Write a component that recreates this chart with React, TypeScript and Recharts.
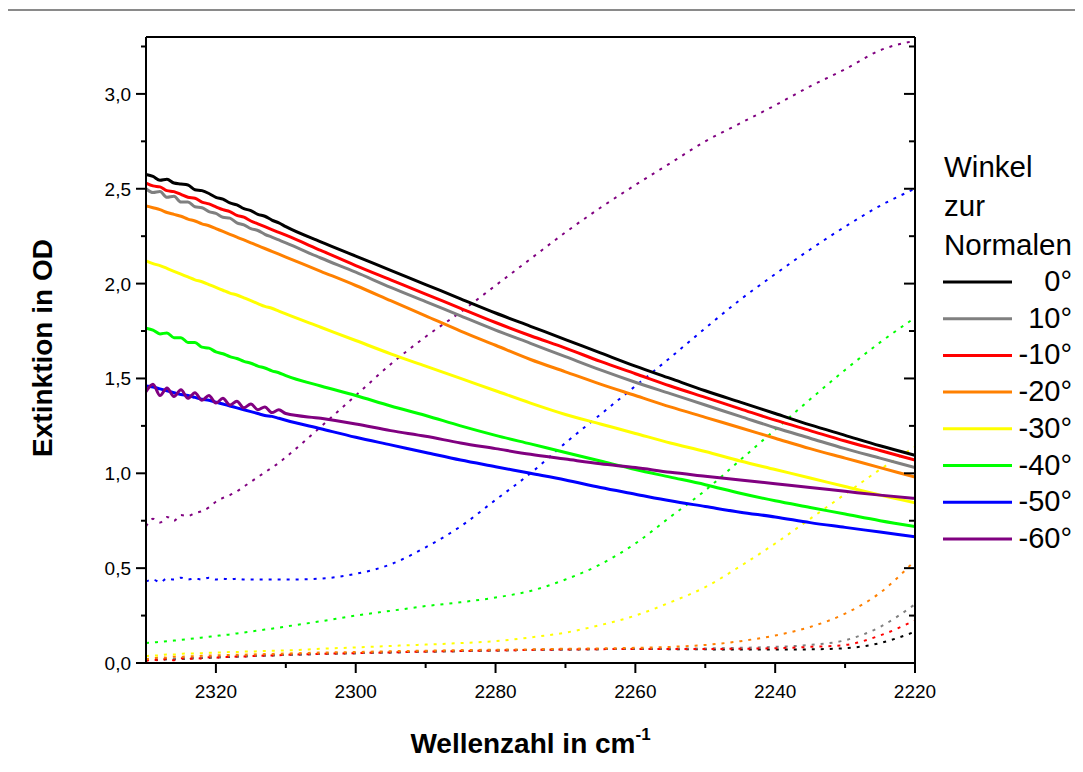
import { LineChart, Line, XAxis, YAxis, Legend } from 'recharts';

const FONT = '"Liberation Sans", Arial, Helvetica, sans-serif';

// wavenumbers (cm-1): 1 step in the wavy start, then 5 steps
const WAVENUMBERS = [
  2330, 2329, 2328, 2327, 2326, 2325, 2324, 2323, 2322, 2321, 2320,
  2319, 2318, 2317, 2316, 2315, 2314, 2313, 2312, 2311, 2310,
  2305, 2300, 2295, 2290, 2285, 2280, 2275, 2270, 2265, 2260,
  2255, 2250, 2245, 2240, 2235, 2230, 2225, 2220,
];

const LEGEND_LABELS = ['0°', '10°', '-10°', '-20°', '-30°', '-40°', '-50°', '-60°'];

const X_TICKS = [2320, 2310, 2300, 2290, 2280, 2270, 2260, 2250, 2240, 2230, 2220];
const Y_TICKS = [0, 0.25, 0.5, 0.75, 1, 1.25, 1.5, 1.75, 2, 2.25, 2.5, 2.75, 3, 3.25];

// solid curves
const SOLID_0 = [
  2.575, 2.565, 2.545, 2.55, 2.53, 2.525, 2.52, 2.495, 2.49, 2.475, 2.455,
  2.445, 2.425, 2.415, 2.395, 2.385, 2.365, 2.355, 2.335, 2.32, 2.30,
  2.22, 2.145, 2.07, 1.995, 1.92, 1.845, 1.775, 1.705, 1.635, 1.565,
  1.50, 1.435, 1.375, 1.315, 1.255, 1.20, 1.145, 1.095,
];
const SOLID_10 = [
  2.50, 2.48, 2.485, 2.455, 2.46, 2.43, 2.43, 2.405, 2.40, 2.38, 2.37,
  2.35, 2.345, 2.32, 2.31, 2.29, 2.28, 2.26, 2.245, 2.23, 2.215,
  2.135, 2.06, 1.98, 1.905, 1.83, 1.755, 1.685, 1.615, 1.545, 1.48,
  1.42, 1.36, 1.30, 1.24, 1.185, 1.13, 1.08, 1.03,
];
const SOLID_M10 = [
  2.53, 2.515, 2.51, 2.49, 2.485, 2.47, 2.455, 2.45, 2.43, 2.42, 2.405,
  2.39, 2.38, 2.36, 2.35, 2.33, 2.315, 2.30, 2.285, 2.27, 2.255,
  2.175, 2.095, 2.02, 1.945, 1.87, 1.795, 1.725, 1.66, 1.59, 1.525,
  1.46, 1.40, 1.34, 1.28, 1.225, 1.17, 1.12, 1.07,
];
const SOLID_M20 = [
  2.41, 2.40, 2.39, 2.375, 2.365, 2.355, 2.34, 2.33, 2.315, 2.305, 2.29,
  2.275, 2.26, 2.245, 2.23, 2.215, 2.20, 2.185, 2.17, 2.155, 2.14,
  2.065, 1.99, 1.91, 1.83, 1.75, 1.675, 1.60, 1.535, 1.47, 1.41,
  1.35, 1.295, 1.24, 1.185, 1.13, 1.08, 1.03, 0.98,
];
const SOLID_M30 = [
  2.12, 2.105, 2.095, 2.08, 2.065, 2.05, 2.035, 2.02, 2.01, 1.995, 1.98,
  1.965, 1.95, 1.94, 1.925, 1.91, 1.895, 1.88, 1.87, 1.855, 1.84,
  1.77, 1.70, 1.63, 1.565, 1.50, 1.435, 1.37, 1.31, 1.26, 1.21,
  1.16, 1.115, 1.065, 1.02, 0.975, 0.93, 0.885, 0.845,
];
const SOLID_M40 = [
  1.765, 1.755, 1.735, 1.74, 1.715, 1.715, 1.69, 1.69, 1.665, 1.66, 1.64,
  1.63, 1.615, 1.605, 1.59, 1.58, 1.565, 1.555, 1.54, 1.53, 1.515,
  1.46, 1.41, 1.355, 1.305, 1.25, 1.20, 1.155, 1.11, 1.065, 1.02,
  0.98, 0.94, 0.895, 0.855, 0.82, 0.785, 0.75, 0.72,
];
const SOLID_M50 = [
  1.46, 1.455, 1.445, 1.435, 1.425, 1.415, 1.41, 1.40, 1.39, 1.385, 1.375,
  1.365, 1.355, 1.345, 1.335, 1.325, 1.315, 1.305, 1.30, 1.29, 1.28,
  1.235, 1.19, 1.15, 1.11, 1.07, 1.035, 1.0, 0.965, 0.925, 0.89,
  0.855, 0.825, 0.795, 0.77, 0.74, 0.715, 0.69, 0.665,
];
const SOLID_M60 = [
  1.43, 1.47, 1.41, 1.45, 1.405, 1.44, 1.395, 1.425, 1.385, 1.41, 1.37,
  1.395, 1.36, 1.38, 1.345, 1.365, 1.335, 1.35, 1.32, 1.335, 1.315,
  1.29, 1.26, 1.225, 1.195, 1.16, 1.13, 1.10, 1.075, 1.05, 1.03,
  1.005, 0.985, 0.965, 0.945, 0.925, 0.905, 0.885, 0.868,
];

// dotted curves
const DOTTED_0 = [
  0.015, 0.018, 0.016, 0.02, 0.02, 0.022, 0.023, 0.025, 0.026, 0.028, 0.029,
  0.031, 0.032, 0.034, 0.035, 0.036, 0.038, 0.039, 0.04, 0.042, 0.043,
  0.048, 0.052, 0.056, 0.06, 0.063, 0.066, 0.069, 0.071, 0.073, 0.074,
  0.073, 0.072, 0.071, 0.071, 0.072, 0.078, 0.105, 0.165,
];
const DOTTED_10 = [
  0.015, 0.02, 0.018, 0.022, 0.022, 0.025, 0.025, 0.027, 0.028, 0.03, 0.031,
  0.032, 0.034, 0.035, 0.036, 0.037, 0.038, 0.04, 0.041, 0.042, 0.043,
  0.048, 0.052, 0.056, 0.06, 0.063, 0.066, 0.069, 0.071, 0.073, 0.075,
  0.076, 0.077, 0.08, 0.085, 0.095, 0.12, 0.19, 0.31,
];
const DOTTED_M10 = [
  0.01, 0.02, 0.012, 0.022, 0.015, 0.025, 0.02, 0.027, 0.024, 0.03, 0.028,
  0.032, 0.031, 0.034, 0.034, 0.036, 0.037, 0.039, 0.04, 0.041, 0.043,
  0.048, 0.052, 0.056, 0.06, 0.063, 0.066, 0.069, 0.071, 0.073, 0.074,
  0.074, 0.074, 0.075, 0.078, 0.085, 0.095, 0.145, 0.225,
];
const DOTTED_M20 = [
  0.02, 0.025, 0.03, 0.028, 0.033, 0.032, 0.036, 0.035, 0.038, 0.039, 0.04,
  0.041, 0.042, 0.043, 0.044, 0.045, 0.046, 0.047, 0.048, 0.049, 0.05,
  0.055, 0.058, 0.062, 0.065, 0.068, 0.07, 0.072, 0.075, 0.077, 0.08,
  0.085, 0.095, 0.115, 0.145, 0.19, 0.26, 0.37, 0.54,
];
const DOTTED_M30 = [
  0.035, 0.04, 0.04, 0.045, 0.045, 0.048, 0.05, 0.05, 0.052, 0.054, 0.055,
  0.056, 0.058, 0.058, 0.06, 0.06, 0.062, 0.063, 0.064, 0.065, 0.066,
  0.075, 0.082, 0.09, 0.097, 0.105, 0.115, 0.135, 0.16, 0.20, 0.25,
  0.32, 0.40, 0.51, 0.63, 0.76, 0.89, 1.02, 1.14,
];
const DOTTED_M40 = [
  0.105, 0.108, 0.112, 0.115, 0.118, 0.122, 0.126, 0.13, 0.134, 0.138, 0.142,
  0.147, 0.151, 0.156, 0.161, 0.166, 0.171, 0.176, 0.181, 0.186, 0.192,
  0.22, 0.25, 0.275, 0.30, 0.32, 0.345, 0.38, 0.44, 0.52, 0.63,
  0.77, 0.91, 1.07, 1.23, 1.39, 1.545, 1.69, 1.82,
];
const DOTTED_M50 = [
  0.43, 0.44, 0.425, 0.445, 0.44, 0.45, 0.44, 0.445, 0.44, 0.45, 0.44,
  0.445, 0.44, 0.445, 0.44, 0.44, 0.44, 0.44, 0.44, 0.44, 0.44,
  0.445, 0.47, 0.52, 0.61, 0.72, 0.86, 1.0, 1.16, 1.31, 1.46,
  1.61, 1.765, 1.915, 2.05, 2.18, 2.30, 2.41, 2.50,
];
const DOTTED_M60 = [
  0.72, 0.76, 0.74, 0.77, 0.75, 0.78, 0.775, 0.79, 0.80, 0.82, 0.85,
  0.87, 0.885, 0.905, 0.93, 0.955, 0.98, 1.005, 1.03, 1.055, 1.085,
  1.245, 1.41, 1.575, 1.72, 1.85, 1.99, 2.13, 2.27, 2.40, 2.52,
  2.635, 2.75, 2.845, 2.94, 3.04, 3.13, 3.23, 3.28,
];

const SERIES = [
  { key: 'a0', color: '#000000', solid: SOLID_0, dotted: DOTTED_0 },
  { key: 'a10', color: '#808080', solid: SOLID_10, dotted: DOTTED_10 },
  { key: 'am10', color: '#ff0000', solid: SOLID_M10, dotted: DOTTED_M10 },
  { key: 'am20', color: '#ff8000', solid: SOLID_M20, dotted: DOTTED_M20 },
  { key: 'am30', color: '#ffff00', solid: SOLID_M30, dotted: DOTTED_M30 },
  { key: 'am40', color: '#00ff00', solid: SOLID_M40, dotted: DOTTED_M40 },
  { key: 'am50', color: '#0000ff', solid: SOLID_M50, dotted: DOTTED_M50 },
  { key: 'am60', color: '#800080', solid: SOLID_M60, dotted: DOTTED_M60 },
];

const data = WAVENUMBERS.map((w, i) => {
  const row: Record<string, number> = { w };
  SERIES.forEach((s) => {
    row[s.key + 's'] = s.solid[i];
    row[s.key + 'd'] = s.dotted[i];
  });
  return row;
});

const isMajorX = (v: number) => v % 20 === 0;
const isMajorY = (v: number) => Math.round(v * 100) % 50 === 0;

const BottomTick = (props: any) => {
  const { x, y, payload } = props;
  const major = isMajorX(payload.value);
  return (
    <g>
      <line x1={x} x2={x} y1={y} y2={y + (major ? 10 : 5)} stroke="#000" strokeWidth={2} />
      {major && (
        <text x={x} y={y + 35} textAnchor="middle" fontSize={19} fontFamily={FONT} fill="#000">
          {payload.value}
        </text>
      )}
    </g>
  );
};

const TopTick = (props: any) => {
  const { x, y, payload } = props;
  const major = isMajorX(payload.value);
  return <line x1={x} x2={x} y1={y} y2={y + (major ? 11 : 6)} stroke="#000" strokeWidth={2} />;
};

const LeftTick = (props: any) => {
  const { x, y, payload } = props;
  const major = isMajorY(payload.value);
  return (
    <g>
      <line x1={x - (major ? 10 : 5)} x2={x} y1={y} y2={y} stroke="#000" strokeWidth={2} />
      {major && (
        <text x={x - 15} y={y + 7} textAnchor="end" fontSize={19} fontFamily={FONT} fill="#000">
          {payload.value.toFixed(1).replace('.', ',')}
        </text>
      )}
    </g>
  );
};

const RightTick = (props: any) => {
  const { x, y, payload } = props;
  const major = isMajorY(payload.value);
  return <line x1={x - (major ? 11 : 6)} x2={x} y1={y} y2={y} stroke="#000" strokeWidth={2} />;
};

const xTitle = (props: any) => {
  const { viewBox } = props;
  return (
    <text
      x={viewBox.x + viewBox.width / 2}
      y={745}
      textAnchor="middle"
      fontSize={28}
      fontWeight="bold"
      fontFamily={FONT}
      fill="#000"
    >
      Wellenzahl in cm
      <tspan dy={-13} fontSize={17}>-1</tspan>
    </text>
  );
};

const yTitle = () => (
  <text
    x={34}
    y={340}
    transform="rotate(-90 34 340)"
    textAnchor="middle"
    dominantBaseline="central"
    fontSize={28}
    fontWeight="bold"
    fontFamily={FONT}
    fill="#000"
  >
    Extinktion in OD
  </text>
);

const renderLegend = (props: any) => {
  const items = (props.payload || [])
    .filter((p: any) => p.type !== 'none')
    .sort((a: any, b: any) => LEGEND_LABELS.indexOf(a.value) - LEGEND_LABELS.indexOf(b.value));
  return (
    <svg width={140} height={410} style={{ display: 'block', overflow: 'visible' }}>
      {['Winkel', 'zur', 'Normalen'].map((t, i) => (
        <text key={t} x={6} y={29 + i * 39} fontSize={29.5} fontFamily={FONT} fill="#000">
          {t}
        </text>
      ))}
      {items.map((p: any, i: number) => (
        <g key={p.value}>
          <line x1={5} x2={74} y1={134 + i * 36.7} y2={134 + i * 36.7} stroke={p.color} strokeWidth={3} />
          <text x={134} y={143 + i * 36.7} textAnchor="end" fontSize={29} fontFamily={FONT} fill="#000">
            {p.value}
          </text>
        </g>
      ))}
    </svg>
  );
};

export default function App() {
  return (
    <div style={{ position: 'relative', width: 1067, height: 756, fontFamily: FONT }}>
      <div
        style={{
          position: 'absolute',
          left: -5,
          top: 1,
          width: 1080,
          height: 763,
          boxSizing: 'border-box',
          borderTop: '2px solid #8a8a8a',
          borderLeft: '2px solid #8a8a8a',
          zIndex: 1,
          pointerEvents: 'none',
        }}
      />
      <LineChart
        width={1067}
        height={756}
        data={data}
        margin={{ top: 19, right: 150, bottom: 71, left: 78 }}
      >
        <XAxis
          xAxisId="bottom"
          dataKey="w"
          type="number"
          domain={[2220, 2330]}
          reversed
          allowDataOverflow
          ticks={X_TICKS}
          interval={0}
          height={30}
          tickLine={false}
          tickSize={0}
          tickMargin={0}
          tick={BottomTick}
          axisLine={{ stroke: '#000', strokeWidth: 2 }}
          label={xTitle}
        />
        <XAxis
          xAxisId="top"
          orientation="top"
          type="number"
          domain={[2220, 2330]}
          reversed
          allowDataOverflow
          ticks={X_TICKS}
          interval={0}
          height={10}
          tickLine={false}
          tickSize={0}
          tickMargin={0}
          tick={TopTick}
          axisLine={{ stroke: '#000', strokeWidth: 2 }}
        />
        <YAxis
          yAxisId="left"
          type="number"
          domain={[0, 3.3]}
          allowDataOverflow
          ticks={Y_TICKS}
          interval={0}
          width={60}
          tickLine={false}
          tickSize={0}
          tickMargin={0}
          tick={LeftTick}
          axisLine={{ stroke: '#000', strokeWidth: 2 }}
          label={yTitle}
        />
        <YAxis
          yAxisId="right"
          orientation="right"
          type="number"
          domain={[0, 3.3]}
          allowDataOverflow
          ticks={Y_TICKS}
          interval={0}
          width={10}
          tickLine={false}
          tickSize={0}
          tickMargin={0}
          tick={RightTick}
          axisLine={{ stroke: '#000', strokeWidth: 2 }}
        />
        {SERIES.map((s) => (
          <Line
            key={s.key + 'd'}
            xAxisId="bottom"
            yAxisId="left"
            type="monotone"
            dataKey={s.key + 'd'}
            stroke={s.color}
            strokeWidth={2}
            strokeDasharray="3 6"
            dot={false}
            activeDot={false}
            legendType="none"
            isAnimationActive={false}
          />
        ))}
        {SERIES.map((s, i) => (
          <Line
            key={s.key + 's'}
            xAxisId="bottom"
            yAxisId="left"
            type="monotone"
            dataKey={s.key + 's'}
            name={LEGEND_LABELS[i]}
            stroke={s.color}
            strokeWidth={3}
            dot={false}
            activeDot={false}
            isAnimationActive={false}
          />
        ))}
        <Legend
          layout="vertical"
          align="center"
          verticalAlign="middle"
          content={renderLegend}
          wrapperStyle={{ left: 930, top: 140, width: 140, height: 410 }}
        />
      </LineChart>
    </div>
  );
}
